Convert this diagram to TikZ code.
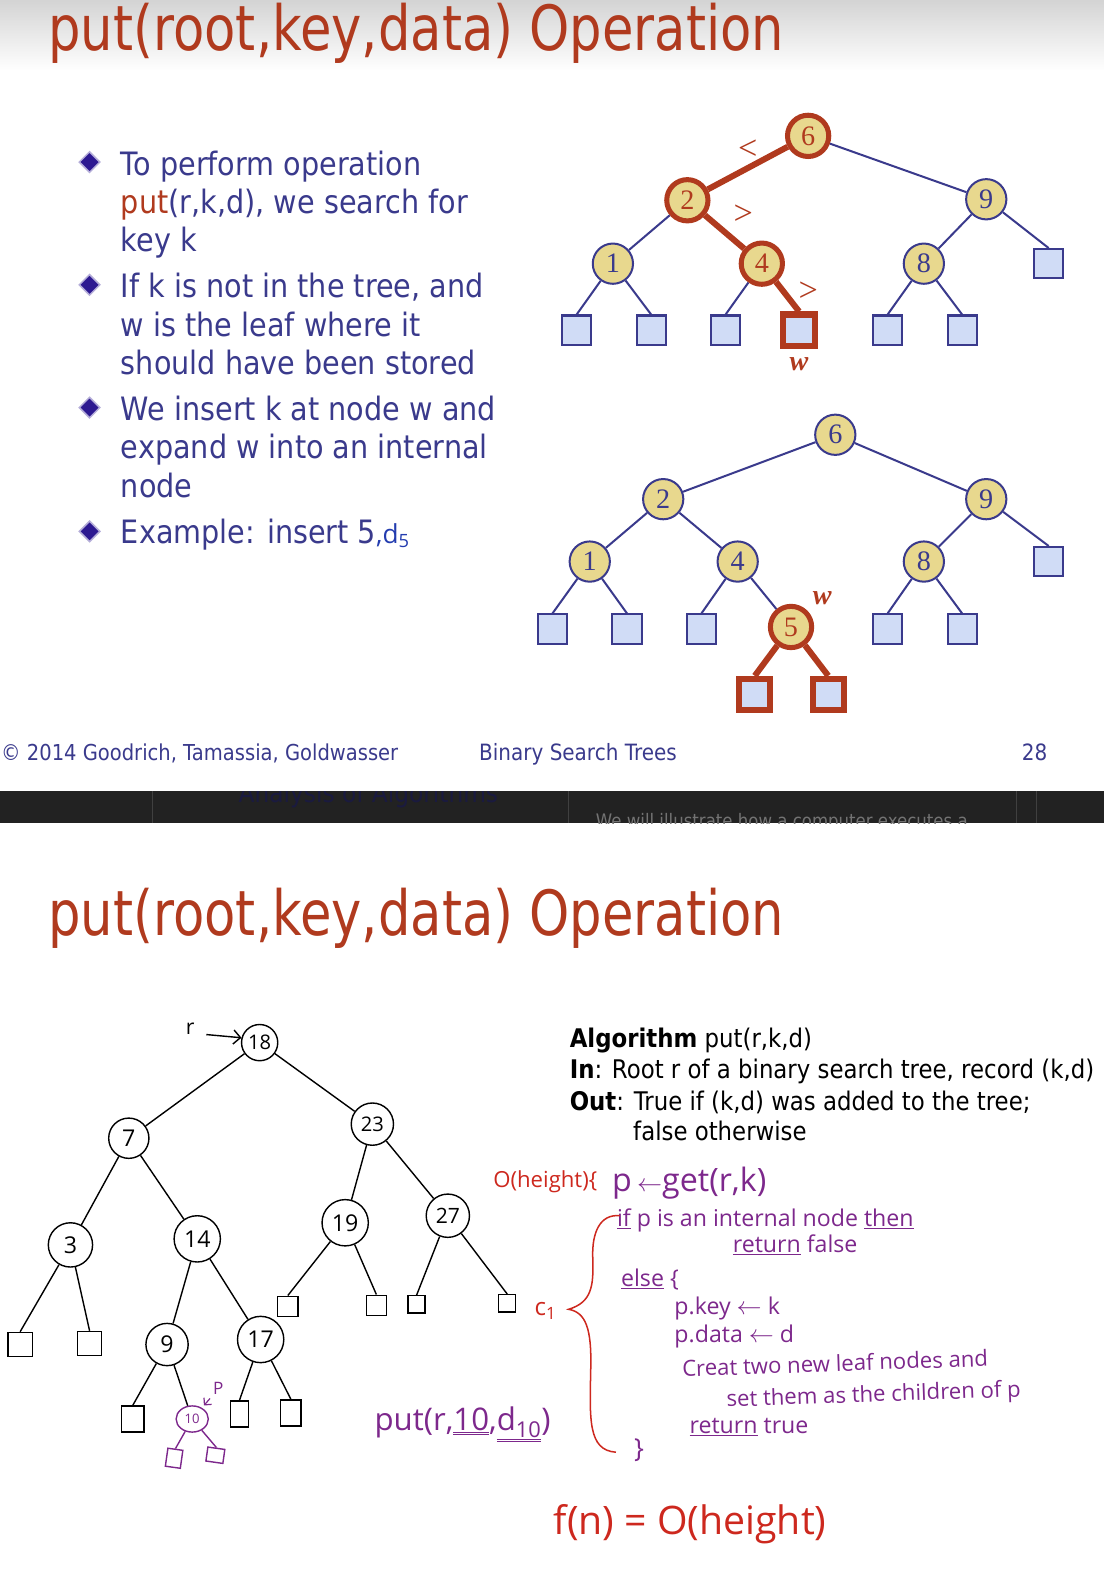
\documentclass[tikz,border=0pt]{standalone}
\usepackage{fontspec}
\setmainfont{DejaVu Sans}[FakeStretch=0.89]
\newfontfamily\titlefont{DejaVu Sans}[FakeStretch=0.82]
\newfontfamily\keyfont{Liberation Serif}
\newfontfamily\hand{Open Sans}
\usetikzlibrary{positioning,shapes.geometric,arrows.meta}

\definecolor{rust}{RGB}{176,58,30}
\definecolor{navy}{RGB}{58,58,140}
\definecolor{sand}{RGB}{232,216,142}
\definecolor{pale}{RGB}{208,220,246}
\definecolor{gem}{RGB}{45,25,145}
\definecolor{ink}{RGB}{125,40,140}
\definecolor{pen}{RGB}{205,40,30}
\definecolor{biro}{RGB}{35,60,175}
\definecolor{bar}{RGB}{34,34,34}

\newcommand{\fsize}[1]{\fontsize{#1}{#1}\selectfont}

\begin{document}
\begin{tikzpicture}[x=1pt,y=-1pt,
    intnode/.style={circle, draw=navy, fill=sand, line width=2pt, minimum size=40pt, inner sep=0pt, text=navy, font=\keyfont\fsize{28}},
    hotkey/.style={intnode, draw=rust, line width=5pt, minimum size=41pt, text=rust},
    leaf/.style={rectangle, draw=navy, fill=pale, line width=2pt, minimum size=29pt, inner sep=0pt},
    hotleaf/.style={leaf, draw=rust, line width=6pt, minimum size=31pt},
    link/.style={draw=navy, line width=2pt},
    hotlink/.style={draw=rust, line width=6pt},
    sign/.style={text=rust, inner sep=0pt, font=\keyfont\fsize{34}},
    bul/.style={diamond, fill=gem, draw=gem!35, line width=1.5pt, minimum size=21pt, inner sep=0pt},
    txt/.style={anchor=base west, inner sep=0pt, text=navy, font=\fsize{32}},
    algo/.style={anchor=base west, inner sep=0pt, font=\fsize{25.5}},
    hnode/.style={circle, draw, line width=1.4pt, minimum size=40pt, inner sep=0pt, font=\hand\fsize{23}},
    hleaf/.style={rectangle, draw, line width=1.4pt, minimum size=22pt, inner sep=0pt},
    hlink/.style={draw, line width=1.4pt},
    note/.style={anchor=base west, inner sep=0pt, text=ink, font=\hand\fsize{23}}
  ]
  \useasboundingbox (0,0) rectangle (1097,1568);
  \shade[top color=black!17, bottom color=white] (0,0) rectangle (1097,70);

  % first slide
  \node[anchor=base west, inner sep=0pt, text=rust, font=\titlefont\fsize{62}] (title1) at (48,50) {put(root,key,data) Operation};

  \node[bul] (g1) at (89,161) {};
  \node[bul] (g2) at (89,283) {};
  \node[bul] (g3) at (89,405) {};
  \node[bul] (g4) at (89,528) {};
  \node[txt] (t1) at (120,174) {To perform operation};
  \node[txt] (t2) at (120,212) {\textcolor{rust}{put}(r,k,d), we search for};
  \node[txt] (t3) at (120,250) {key k};
  \node[txt] (t4) at (120,296) {If k is not in the tree, and};
  \node[txt] (t5) at (120,334) {w is the leaf where it};
  \node[txt] (t6) at (120,372) {should have been stored};
  \node[txt] (t7) at (120,418) {We insert k at node w and};
  \node[txt] (t8) at (120,456) {expand w into an internal};
  \node[txt] (t9) at (120,494) {node};
  \node[txt] (t10) at (120,540) {Example: insert 5{\color{biro}\hand\fsize{26},d\textsubscript{5}}};

  % search for w
  \node[hotkey] (a6) at (803,135) {6};
  \node[hotkey] (a2) at (683,199) {2};
  \node[intnode] (a9) at (980,198) {9};
  \node[intnode] (a1) at (609,262) {1};
  \node[hotkey] (a4) at (757,262) {4};
  \node[intnode] (a8) at (918,262) {8};
  \node[leaf] (a9r) at (1042,262) {};
  \node[leaf] (a1l) at (573,328) {};
  \node[leaf] (a1r) at (647,328) {};
  \node[leaf] (a4l) at (721,328) {};
  \node[hotleaf] (aw) at (794,328) {};
  \node[leaf] (a8l) at (882,328) {};
  \node[leaf] (a8r) at (956,328) {};
  \node[sign, font=\keyfont\bfseries\itshape\fsize{28}] (wa) at (794,362) {w};
  \path[link]
    (a6) edge (a9)
    (a2) edge (a1)
    (a9) edge (a8)
    (a9) edge (a9r.north)
    (a1) edge (a1l.north)
    (a1) edge (a1r.north)
    (a4) edge (a4l.north)
    (a8) edge (a8l.north)
    (a8) edge (a8r.north);
  \path[hotlink]
    (a6) edge node[sign, above=6pt] {<} (a2)
    (a2) edge node[sign, above right=4pt and 6pt] {>} (a4)
    (a4) edge node[sign, right=8pt, yshift=5pt] {>} (aw.north);

  % after insertion
  \node[intnode] (b6) at (830,432) {6};
  \node[intnode] (b2) at (659,496) {2};
  \node[intnode] (b9) at (980,496) {9};
  \node[intnode] (b1) at (586,558) {1};
  \node[intnode] (b4) at (733,558) {4};
  \node[intnode] (b8) at (918,558) {8};
  \node[leaf] (b9r) at (1042,558) {};
  \node[leaf] (b1l) at (549,625) {};
  \node[leaf] (b1r) at (623,625) {};
  \node[leaf] (b4l) at (697,625) {};
  \node[hotkey] (b5) at (786,623) {5};
  \node[leaf] (b8l) at (882,625) {};
  \node[leaf] (b8r) at (956,625) {};
  \node[hotleaf] (b5l) at (750,690) {};
  \node[hotleaf] (b5r) at (823,690) {};
  \node[sign, font=\keyfont\bfseries\itshape\fsize{28}] (wb) at (817,594) {w};
  \path[link]
    (b6) edge (b2)
    (b6) edge (b9)
    (b2) edge (b1)
    (b2) edge (b4)
    (b9) edge (b8)
    (b9) edge (b9r.north)
    (b1) edge (b1l.north)
    (b1) edge (b1r.north)
    (b4) edge (b4l.north)
    (b4) edge (b5)
    (b8) edge (b8l.north)
    (b8) edge (b8r.north);
  \path[hotlink]
    (b5) edge (b5l.north)
    (b5) edge (b5r.north);

  % footer
  \node[anchor=base west, inner sep=0pt, text=navy, font=\fsize{21.8}] (copy) at (1,756) {\textcopyright{} 2014 Goodrich, Tamassia, Goldwasser};
  \node[anchor=base west, inner sep=0pt, text=navy, font=\fsize{22.3}] (sub) at (476,756) {Binary Search Trees};
  \node[anchor=base, inner sep=0pt, text=navy, font=\fsize{22.3}] (page) at (1028,756) {28};

  % strip between the slides
  \fill[bar] (0,786) rectangle (1097,818);
  \foreach \x in {152,565,1010,1030}
    \draw[black!75, line width=1pt] (\x,786) -- (\x,818);
  \begin{scope}
    \clip (0,786) rectangle (1097,818);
    \node[anchor=base west, inner sep=0pt, text=navy!45!black, font=\fsize{26}] (old1) at (237,797) {Analysis of Algorithms};
    \node[anchor=base west, inner sep=0pt, text=black!55, font=\fsize{18.5}] (old2) at (592,822) {We will illustrate how a computer executes a};
  \end{scope}

  % second slide
  \node[anchor=base west, inner sep=0pt, text=rust, font=\titlefont\fsize{62}] (title2) at (48,930) {put(root,key,data) Operation};

  \node[algo] (al1) at (566,1041) {\textbf{Algorithm} put(r,k,d)};
  \node[algo] (al2) at (566,1072) {\textbf{In}: Root r of a binary search tree, record (k,d)};
  \node[algo] (al3) at (566,1103) {\textbf{Out}: True if (k,d) was added to the tree;};
  \node[algo] (al4) at (629,1133) {false otherwise};

  % hand drawn tree
  \node[hnode, minimum size=36pt, font=\hand\fsize{20}] (h18) at (258,1036) {18};
  \node[hnode] (h7) at (128,1131) {7};
  \node[hnode, minimum size=42pt, font=\hand\fsize{20}] (h23) at (370,1117) {23};
  \node[hnode, minimum size=44pt] (h3) at (70,1237) {3};
  \node[hnode, minimum size=46pt] (h14) at (196,1231) {14};
  \node[hnode, minimum size=46pt] (h19) at (343,1215) {19};
  \node[hnode, minimum size=43pt, font=\hand\fsize{21}] (h27) at (445,1208) {27};
  \node[hnode, minimum size=42pt] (h9) at (166,1336) {9};
  \node[hnode, minimum size=46pt] (h17) at (259,1331) {17};
  \node[ellipse, draw=ink, line width=1.4pt, minimum width=32pt, minimum height=26pt, inner sep=0pt, text=ink, font=\hand\fsize{13}] (h10) at (191,1410) {10};
  \node[hleaf, minimum size=24pt] (l3a) at (20,1336) {};
  \node[hleaf, minimum size=24pt] (l3b) at (89,1335) {};
  \node[hleaf, minimum size=20pt] (l19a) at (286,1298) {};
  \node[hleaf, minimum size=20pt] (l19b) at (374,1297) {};
  \node[hleaf, minimum size=17pt] (l27a) at (414,1296) {};
  \node[hleaf, minimum size=17pt] (l27b) at (504,1295) {};
  \node[hleaf, minimum width=22pt, minimum height=26pt] (l9a) at (132,1410) {};
  \node[hleaf, minimum width=18pt, minimum height=26pt] (l17a) at (238,1405) {};
  \node[hleaf, minimum width=20pt, minimum height=26pt] (l17b) at (289,1404) {};
  \node[hleaf, draw=ink, minimum width=15pt, minimum height=18pt, rotate=-8] (l10a) at (173,1449) {};
  \node[hleaf, draw=ink, minimum width=17pt, minimum height=14pt, rotate=-8] (l10b) at (214,1446) {};
  \path[hlink]
    (h18) edge (h7)
    (h18) edge (h23)
    (h7) edge (h3)
    (h7) edge (h14)
    (h23) edge (h19)
    (h23) edge (h27)
    (h3) edge (l3a.north)
    (h3) edge (l3b.north)
    (h14) edge (h9)
    (h14) edge (h17)
    (h19) edge (l19a.north)
    (h19) edge (l19b.north)
    (h27) edge (l27a.north)
    (h27) edge (l27b.north)
    (h9) edge (l9a.north)
    (h9) edge (h10)
    (h17) edge (l17a.north)
    (h17) edge (l17b.north);
  \path[hlink, draw=ink]
    (h10) edge (l10a.north)
    (h10) edge (l10b.north);

  \node[font=\hand\fsize{21}] (rlab) at (189,1022) {r};
  \coordinate (rtail) at (205,1028);
  \draw[hlink, -{Straight Barb[length=7pt]}] (rtail) -- (h18.165);
  \node[text=ink, font=\hand\fsize{17}] (plab) at (217,1380) {P};
  \draw[hlink, draw=ink, line width=1.2pt, -{Straight Barb[length=5pt]}, shorten >=3pt] (plab) -- (h10);

  % notes
  \node[anchor=base west, inner sep=0pt, text=pen, font=\hand\fsize{22}] (oh) at (490,1180) {O(height)\{};
  \node[anchor=base west, inner sep=0pt, text=ink, font=\hand\fsize{32}] (get) at (608,1184) {p\,\ensuremath{\leftarrow}get(r,k)};
  \node[note] (n1) at (613,1219) {\underline{if} p is an internal node \underline{then}};
  \node[note] (n2) at (728,1245) {\underline{return} false};
  \node[note] (n3) at (617,1278) {\underline{else} \{};
  \node[note] (n4) at (670,1306) {p.key \ensuremath{\leftarrow} k};
  \node[note] (n5) at (670,1334) {p.data \ensuremath{\leftarrow} d};
  \node[note, rotate=2, font=\hand\fsize{22}] (n6) at (678,1368) {Creat two new leaf nodes and};
  \node[note, rotate=2, font=\hand\fsize{22}] (n7) at (722,1398) {set them as the children of p};
  \node[note] (n8) at (685,1424) {\underline{return} true};
  \node[note, font=\hand\fsize{26}] (n9) at (630,1448) {\}};
  \node[anchor=base west, inner sep=0pt, text=pen, font=\hand\fsize{24}] (c1) at (531,1307) {c\textsubscript{1}};
  \draw[pen, line width=1.5pt] (616,1208) .. controls (596,1206) and (588,1225) .. (589,1250)
    .. controls (590,1278) and (588,1294) .. (565,1301)
    .. controls (582,1304) and (588,1320) .. (587,1360)
    .. controls (586,1410) and (584,1441) .. (612,1443);
  \node[anchor=base west, inner sep=0pt, text=ink, font=\hand\fsize{31}] (call) at (372,1421) {put(r,\underline{\underline{10}},\underline{\underline{d\textsubscript{10}}})};
  \node[anchor=base west, inner sep=0pt, text=pen, font=\hand\fsize{39}] (cost) at (550,1525) {f(n) = O(height)};
\end{tikzpicture}
\end{document}
